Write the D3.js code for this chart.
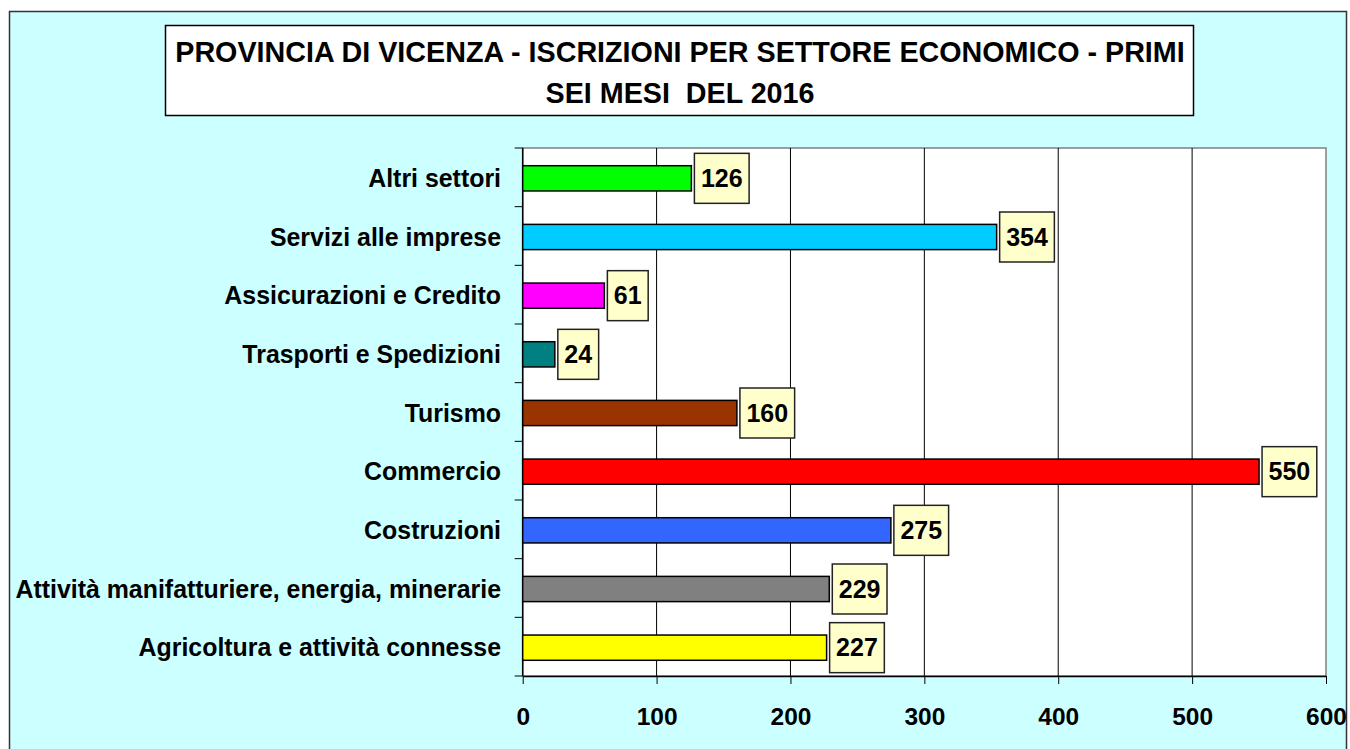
<!DOCTYPE html>
<html>
<head>
<meta charset="utf-8">
<script src="https://cdn.jsdelivr.net/npm/d3@7"></script>
<style>
  html, body { margin: 0; padding: 0; background: #fff; }
  svg { display: block; font-family: Arial, "Liberation Sans", sans-serif; }
</style>
</head>
<body>
<svg id="chart"></svg>
<script>
// Data, bottom to top as in the picture
const categories = [
  'Agricoltura e attività connesse',
  'Attività manifatturiere, energia, minerarie',
  'Costruzioni',
  'Commercio',
  'Turismo',
  'Trasporti e Spedizioni',
  'Assicurazioni e Credito',
  'Servizi alle imprese',
  'Altri settori'
];
const values = [227, 229, 275, 550, 160, 24, 61, 354, 126];
const barColors = ['#FFFF00', '#808080', '#3366FF', '#FF0000', '#993300', '#008080', '#FF00FF', '#00CCFF', '#00FF00'];
const xTicks = [0, 100, 200, 300, 400, 500, 600];
const titleLines = ['PROVINCIA DI VICENZA - ISCRIZIONI PER SETTORE ECONOMICO - PRIMI', 'SEI MESI  DEL 2016'];

const width = 1350, height = 749;
const plot = { left: 522.7, top: 148, right: 1326, bottom: 676 };

const svg = d3.select('#chart')
  .attr('width', width)
  .attr('height', height);

// Chart background
svg.append('rect')
  .attr('x', 9.5).attr('y', 11.5)
  .attr('width', 1337).attr('height', 750)
  .attr('fill', '#CCFFFF')
  .attr('stroke', '#333').attr('stroke-width', 1.5);

// Title box
svg.append('rect')
  .attr('x', 165.5).attr('y', 25.5)
  .attr('width', 1028).attr('height', 90)
  .attr('fill', '#fff')
  .attr('stroke', '#000').attr('stroke-width', 1.5);

svg.append('text')
  .attr('text-anchor', 'middle')
  .attr('font-size', '28.7px')
  .attr('font-weight', 'bold')
  .attr('xml:space', 'preserve')
  .selectAll('tspan')
  .data(titleLines)
  .join('tspan')
  .attr('x', 680)
  .attr('y', (d, i) => 62 + i * 41)
  .text(d => d);

const xScale = d3.scaleLinear()
  .domain([0, 600])
  .range([plot.left, plot.right]);

const yScale = d3.scaleBand()
  .domain(categories.slice().reverse())
  .range([plot.top, plot.bottom])
  .paddingInner(0.57)
  .paddingOuter(0.285);

// Plot area
svg.append('rect')
  .attr('x', plot.left).attr('y', plot.top)
  .attr('width', plot.right - plot.left).attr('height', plot.bottom - plot.top)
  .attr('fill', '#fff')
  .attr('stroke', '#808080').attr('stroke-width', 1.5);

// Gridlines
svg.append('g')
  .selectAll('line')
  .data(xTicks.slice(1, -1))
  .join('line')
  .attr('x1', d => xScale(d)).attr('x2', d => xScale(d))
  .attr('y1', plot.top).attr('y2', plot.bottom)
  .attr('stroke', '#000').attr('stroke-width', 1);

// X axis
const xAxis = svg.append('g')
  .attr('transform', `translate(0, ${plot.bottom})`)
  .call(d3.axisBottom(xScale).tickValues(xTicks).tickSize(8).tickPadding(24).tickSizeOuter(0));
xAxis.select('.domain').attr('stroke', '#000').attr('stroke-width', 1.5);
xAxis.selectAll('.tick line').attr('stroke', '#000');
xAxis.selectAll('.tick text')
  .attr('font-size', '24.5px').attr('font-weight', 'bold')
  .attr('font-family', 'Arial, "Liberation Sans", sans-serif')
  .attr('fill', '#000');

// Y axis: ticks at category boundaries
const bounds = d3.range(categories.length + 1).map(i => plot.top + i * (plot.bottom - plot.top) / categories.length);
const yAxis = svg.append('g');
yAxis.append('line')
  .attr('x1', plot.left).attr('x2', plot.left)
  .attr('y1', plot.top).attr('y2', plot.bottom)
  .attr('stroke', '#000').attr('stroke-width', 1.5);
yAxis.selectAll('line.tk')
  .data(bounds)
  .join('line')
  .attr('class', 'tk')
  .attr('x1', plot.left - 8).attr('x2', plot.left)
  .attr('y1', d => d).attr('y2', d => d)
  .attr('stroke', '#000').attr('stroke-width', 1);

yAxis.selectAll('text')
  .data(categories)
  .join('text')
  .attr('x', 501)
  .attr('y', d => yScale(d) + yScale.bandwidth() / 2 + 1)
  .attr('dy', '0.35em')
  .attr('text-anchor', 'end')
  .attr('font-size', '24.9px')
  .attr('font-weight', 'bold')
  .attr('fill', '#000')
  .text(d => d);

// Bars
svg.append('g')
  .selectAll('rect')
  .data(categories)
  .join('rect')
  .attr('x', plot.left)
  .attr('y', d => yScale(d) + 1)
  .attr('width', (d, i) => xScale(values[i]) - plot.left)
  .attr('height', yScale.bandwidth())
  .attr('fill', (d, i) => barColors[i])
  .attr('stroke', '#000').attr('stroke-width', 1.5);

// Value labels in boxes
const labels = svg.append('g')
  .selectAll('g')
  .data(categories)
  .join('g');

labels.each(function(d, i) {
  const g = d3.select(this);
  const cy = yScale(d) + yScale.bandwidth() / 2 + 1;
  const x0 = xScale(values[i]) + 3;
  const rect = g.append('rect');
  const t = g.append('text')
    .attr('font-size', '25px')
    .attr('font-weight', 'bold')
    .attr('fill', '#000')
    .attr('text-anchor', 'middle')
    .attr('dy', '0.35em')
    .text(values[i]);
  const w = t.node().getComputedTextLength() + 13;
  t.attr('x', x0 + w / 2).attr('y', cy);
  rect.attr('x', x0).attr('y', cy - 25)
    .attr('width', w).attr('height', 50)
    .attr('fill', '#FFFFCC')
    .attr('stroke', '#222').attr('stroke-width', 1.5);
});
</script>
</body>
</html>
